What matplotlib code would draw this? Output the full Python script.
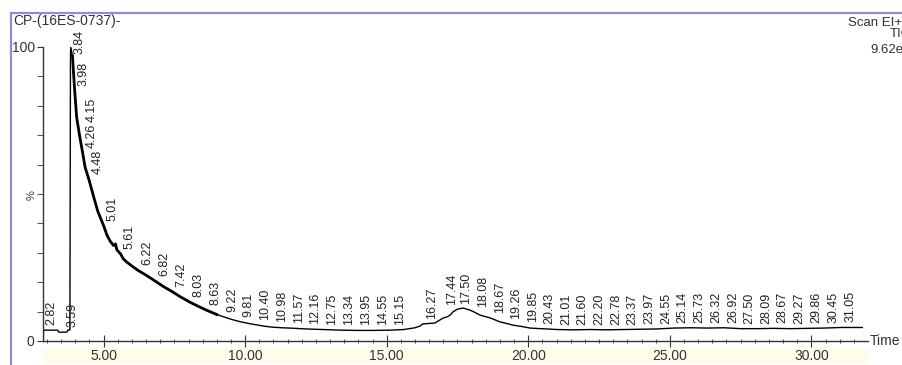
import numpy as np
import matplotlib.pyplot as plt
from matplotlib.lines import Line2D
from matplotlib.patches import Rectangle
from matplotlib.transforms import IdentityTransform

plt.rcParams['font.family'] = ['Liberation Sans', 'DejaVu Sans']

# chromatogram trace (time in min, relative intensity in %)
times = [2.87, 2.88, 3.38, 3.42, 3.70, 3.74, 3.81, 3.83, 3.84, 3.90, 3.98, 4.05,
         4.15, 4.26, 4.35, 4.48, 4.65, 4.80, 5.01, 5.12, 5.23, 5.35, 5.42, 5.47,
         5.61, 5.69, 5.80, 6.00, 6.22, 6.50, 6.82, 7.10, 7.42, 7.70, 8.03, 8.30,
         8.63, 9.00, 9.22, 9.50, 9.81, 10.10, 10.40, 10.70, 10.98, 11.30, 11.57,
         12.16, 12.75, 13.34, 13.95, 14.55, 15.15, 15.60, 16.00, 16.18, 16.27,
         16.70, 16.99, 17.13, 17.24, 17.34, 17.44, 17.52, 17.70, 17.94, 18.08,
         18.30, 18.67, 19.00, 19.26, 19.46, 19.85, 20.06, 20.43, 20.66, 21.01,
         21.60, 22.20, 22.78, 23.37, 23.97, 24.55, 25.14, 25.73, 26.32, 26.92,
         27.50, 28.09, 28.67, 29.27, 29.86, 30.45, 31.05, 31.80]
intensity = [0.0, 3.7, 3.7, 3.0, 3.0, 3.7, 3.8, 97, 100, 97, 85, 76,
             70, 64, 59, 55, 49, 44, 39, 36, 34, 32.5, 33, 31,
             29.5, 28, 27, 25.5, 24, 22.4, 20.4, 18.6, 16.8, 15.1, 13.3, 12.0,
             10.5, 9.0, 8.3, 7.4, 6.6, 6.0, 5.5, 5.0, 4.7, 4.5, 4.4,
             4.1, 3.9, 3.7, 3.6, 3.6, 3.7, 3.9, 4.5, 5.1, 5.8,
             6.1, 7.8, 8.2, 8.8, 9.9, 10.5, 10.9, 11.2, 10.5, 9.9,
             8.8, 7.8, 6.5, 5.9, 5.4, 4.8, 4.4, 4.2, 4.1, 3.9,
             3.8, 3.9, 3.8, 3.9, 4.0, 4.1, 4.4, 4.5, 4.4, 4.5,
             4.2, 4.2, 4.3, 4.2, 4.3, 4.4, 4.6, 4.6]

peak_times = [2.82, 3.59, 3.84, 3.98, 4.15, 4.26, 4.48, 5.01, 5.61, 6.22, 6.82,
              7.42, 8.03, 8.63, 9.22, 9.81, 10.40, 10.98, 11.57, 12.16, 12.75,
              13.34, 13.95, 14.55, 15.15, 16.27, 17.44, 17.50, 18.08, 18.67,
              19.26, 19.85, 20.43, 21.01, 21.60, 22.20, 22.78, 23.37, 23.97,
              24.55, 25.14, 25.73, 26.32, 26.92, 27.50, 28.09, 28.67, 29.27,
              29.86, 30.45, 31.05]

times = np.array(times)
intensity = np.array(intensity)

fig = plt.figure(figsize=(9.03, 3.65), dpi=100)
ax = fig.add_axes([43 / 903, 24 / 365, 825 / 903, 294 / 365])

ax.plot(times, intensity, color='black', lw=1.0)
thick = (times >= 3.86) & (times <= 9.0)
ax.plot(times[thick], intensity[thick], color='black', lw=2.0)

ax.set_xlim(2.86, 32.0)
ax.set_ylim(0, 100)

# peak labels: start just above the trace, right of the peak; resolve clashes
lab_size = 9
em = lab_size * 100 / 72.0
lab_w = 11
placed = []
for pt in reversed(peak_times):
    s = "%.2f" % pt
    yv = min(np.interp(np.clip(pt, times[1], times[-1]), times, intensity), 96)
    x, y = ax.transData.transform((pt, yv))
    x += 9
    y += 5
    h = em * (0.556 * (len(s) - 1) + 0.278)
    for (px_, py_, ph_) in placed:
        if abs(x - px_) < lab_w and y < py_ + ph_ and py_ < y + h:
            if abs(y - py_) < 15:
                x = px_ - lab_w - 3
            else:
                y = py_ + ph_ + 2
                x = px_
    placed.append((x, y, h))
    ax.text(x, y, s, transform=IdentityTransform(), rotation=90,
            ha='center', va='bottom', fontsize=lab_size, color='#222222',
            clip_on=False)

for s in ['top', 'right']:
    ax.spines[s].set_visible(False)
for s in ['left', 'bottom']:
    ax.spines[s].set_color('#333333')
    ax.spines[s].set_linewidth(1.0)

ax.set_xticks([5, 10, 15, 20, 25, 30])
ax.set_xticklabels(['5.00', '10.00', '15.00', '20.00', '25.00', '30.00'])
ax.set_xticks(np.arange(3.0, 32.0, 0.5), minor=True)
ax.tick_params(axis='x', which='major', direction='inout', length=8, pad=2,
               labelsize=10, colors='#333333')
ax.tick_params(axis='x', which='minor', direction='inout', length=3,
               colors='#333333')
ax.set_yticks([0, 100])
ax.set_yticklabels(['0', '100'])
ax.set_yticks(np.arange(10, 100, 10), minor=True)
ax.tick_params(axis='y', which='major', direction='out', length=4, pad=2,
               labelsize=10, colors='#333333')
ax.tick_params(axis='y', which='minor', direction='out', length=4,
               colors='#333333')

fig.text(870 / 903, (365 - 341) / 365, 'Time', fontsize=10, color='#333333',
         ha='left', va='center')
fig.text(32 / 903, (365 - 195) / 365, '%', fontsize=8, color='#333333',
         rotation=90, ha='center', va='center')

# frame and header
fig.add_artist(Line2D([11 / 903, 1], [(365 - 13) / 365] * 2,
                      color='#8c8cd8', lw=1.6))
fig.add_artist(Line2D([11 / 903] * 2, [0, (365 - 13) / 365],
                      color='#8c8cd8', lw=1.6))
fig.add_artist(Rectangle((43 / 903, 2 / 365), 825 / 903, 15 / 365,
                         color='#fffcec', zorder=-1))
fig.text(13 / 903, (365 - 21) / 365, 'CP-(16ES-0737)-', fontsize=10,
         color='#333333', ha='left', va='center')
fig.text(848 / 903, (365 - 23) / 365, 'Scan EI+', fontsize=9.5,
         color='#333333', ha='left', va='center')
fig.text(890 / 903, (365 - 34) / 365, 'TIC', fontsize=9.5,
         color='#333333', ha='left', va='center')
fig.text(870 / 903, (365 - 50) / 365, '9.62e7', fontsize=9.5,
         color='#333333', ha='left', va='center')

fig.savefig('out.png', dpi=100)
